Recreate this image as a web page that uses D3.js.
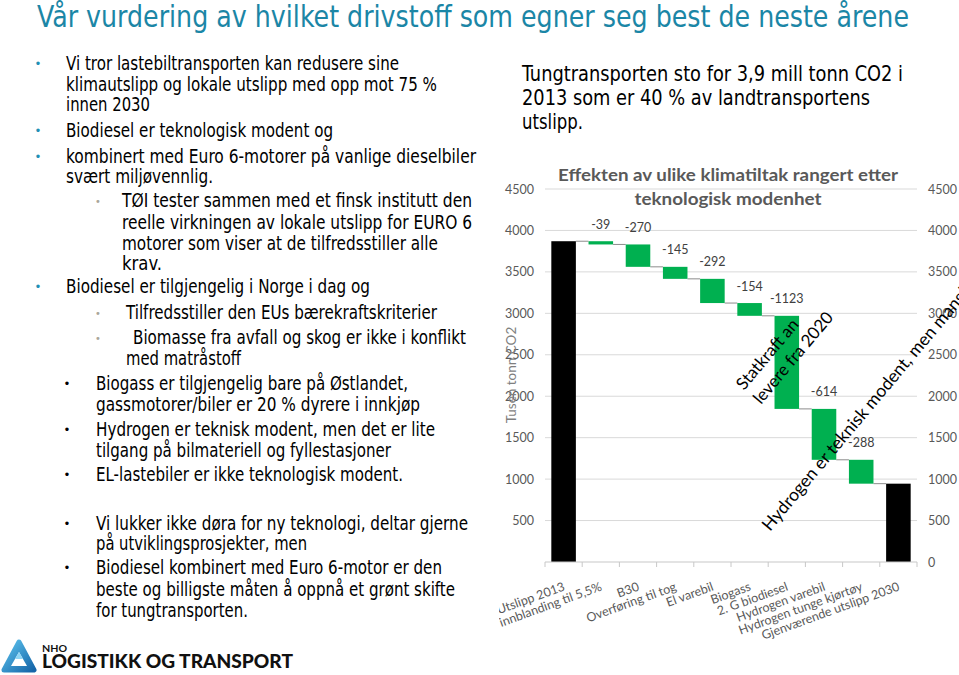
<!DOCTYPE html>
<html><head><meta charset="utf-8">
<script src="https://cdn.jsdelivr.net/npm/d3@7"></script>
<style>html,body{margin:0;padding:0;background:#fff;} svg{display:block;}</style>
</head><body>
<svg id="c" width="959" height="675"></svg>
<script>
// ---------- chart data ----------
const categories = ["Utslipp 2013", "Bio innblanding  til 5,5%", "B30", "Overføring til tog", "El varebil",
  "Biogass", "2. G biodiesel", "Hydrogen varebil", "Hydrogen tunge kjørtøy", "Gjenværende utslipp 2030"];
const values = [3870, -39, -270, -145, -292, -154, -1123, -614, -288, 945];
const kinds = ["total", "delta", "delta", "delta", "delta", "delta", "delta", "delta", "delta", "total"];
const rightTicks = [0, 500, 1000, 1500, 2000, 2500, 3000, 3500, 4000, 4500];
const leftTicks = [500, 1000, 1500, 2000, 2500, 3000, 3500, 4000, 4500];
const chartTitle = ["Effekten av ulike klimatiltak rangert etter", "teknologisk modenhet"];
const yTitle = "Tusen tonn CO2";
const annotations = [["Statkraft an", "levere fra 2020"], ["Hydrogen er teknisk modent, men mangler"]];

// ---------- slide text ----------
const slideTitle = "Vår vurdering av hvilket drivstoff som egner seg best de neste årene";
// [text, bulletType, x, centerY, endX]
const bodyLines = [
  ["Vi tror lastebiltransporten kan redusere sine", "teal", 66, 63.3, 399],
  ["klimautslipp og lokale utslipp med opp mot 75 %", null, 66, 84.3, 437],
  ["innen 2030", null, 66, 104.3, 150],
  ["Biodiesel er teknologisk modent og", "teal", 66, 130, 333],
  ["kombinert med Euro 6-motorer på vanlige dieselbiler", "teal", 66, 156, 476],
  ["svært miljøvennlig.", null, 66, 176.7, 213],
  ["TØI tester sammen med et finsk institutt den", "gray", 122, 200, 472],
  ["reelle virkningen av lokale utslipp for EURO 6", null, 122, 222, 472],
  ["motorer som viser at de tilfredsstiller alle", null, 122, 243, 438],
  ["krav.", null, 122, 263, 162],
  ["Biodiesel er tilgjengelig i Norge i dag og", "teal", 66, 286.7, 370],
  ["Tilfredsstiller den EUs bærekraftskriterier", "gray", 126, 312, 437],
  ["Biomasse fra avfall og skog er ikke i konflikt", "gray", 133, 337, 466],
  ["med matråstoff", null, 126, 358, 241],
  ["Biogass er tilgjengelig bare på Østlandet,", "black", 96, 383, 408],
  ["gassmotorer/biler er 20 % dyrere i innkjøp", null, 96, 404, 420],
  ["Hydrogen er teknisk modent, men det er lite", "black", 96, 429, 435],
  ["tilgang på bilmateriell og fyllestasjoner", null, 96, 450, 391],
  ["EL-lastebiler er ikke teknologisk modent.", "black", 96, 474, 403],
  ["Vi lukker ikke døra for ny teknologi, deltar gjerne", "black", 96, 523, 468],
  ["på utviklingsprosjekter, men", null, 96, 543, 307],
  ["Biodiesel kombinert med Euro 6-motor er den", "black", 96, 567, 442],
  ["beste og billigste måten å oppnå et grønt skifte", null, 96, 589, 455],
  ["for tungtransporten.", null, 96, 610, 248]
];
const rightLines = [
  ["Tungtransporten sto for 3,9 mill tonn CO2 i", 522, 80.5, 903],
  ["2013 som er 40 % av landtransportens", 522, 104.5, 870],
  ["utslipp.", 522, 128.5, 583]
];

const svg = d3.select("#c");
const BODY = "'DejaVu Sans Condensed','DejaVu Sans',Verdana,sans-serif";
const CAL = "Lato,'Open Sans',sans-serif";

// slide title
svg.append("text").attr("x", 37).attr("y", 27).text(slideTitle)
  .attr("font-family", BODY).attr("font-size", 30).attr("fill", "#1b86a6")
  .attr("textLength", 872).attr("lengthAdjust", "spacingAndGlyphs");

// body text
const bulletStyle = {
  teal: {x: 38, fill: "#2190b5", size: 13},
  gray: {x: 98, fill: "#aaa69a", size: 11},
  black: {x: 67, fill: "#000", size: 13}
};
bodyLines.forEach(([t, b, x0, cy, x1]) => {
  svg.append("text").attr("x", x0).attr("y", cy + 6.5).text(t)
    .attr("font-family", BODY).attr("font-size", 19).attr("fill", "#000")
    .attr("textLength", x1 - x0).attr("lengthAdjust", "spacingAndGlyphs");
  if (b) {
    const s = bulletStyle[b];
    svg.append("text").attr("x", s.x).attr("y", cy + 4.5).text("•")
      .attr("text-anchor", "middle").attr("font-family", BODY)
      .attr("font-size", s.size).attr("fill", s.fill);
  }
});
rightLines.forEach(([t, x0, by, x1]) => {
  svg.append("text").attr("x", x0).attr("y", by).text(t)
    .attr("font-family", BODY).attr("font-size", 21).attr("fill", "#000")
    .attr("textLength", x1 - x0).attr("lengthAdjust", "spacingAndGlyphs");
});

// ---------- chart ----------
const x = d3.scaleBand().domain(categories).range([545, 917]).paddingInner(0.34).paddingOuter(0.17);
const y = d3.scaleLinear().domain([0, 4500]).range([562, 189]);
const g = svg.append("g");

// gridlines
g.selectAll("line.grid").data(leftTicks).join("line")
  .attr("x1", 545).attr("x2", 917).attr("y1", d => y(d)).attr("y2", d => y(d))
  .attr("stroke", "#d9d9d9").attr("stroke-width", 1);

// waterfall segments
let run = 0;
const segs = categories.map((c, i) => {
  const v = values[i];
  let s;
  if (kinds[i] === "total") { s = {c, lo: 0, hi: v, kind: "total", v, end: v}; run = v; }
  else { s = {c, lo: run + v, hi: run, kind: "delta", v, end: run + v}; run += v; }
  return s;
});
const bw = x.bandwidth();

// connectors
g.selectAll("line.conn").data(segs.slice(0, -1)).join("line")
  .attr("x1", (d) => x(d.c) + bw).attr("x2", (d, i) => x(categories[i + 1]))
  .attr("y1", d => y(d.end)).attr("y2", d => y(d.end))
  .attr("stroke", "#8c8c8c").attr("stroke-width", 1);

g.selectAll("rect.bar").data(segs).join("rect")
  .attr("x", d => x(d.c)).attr("width", bw)
  .attr("y", d => y(d.hi)).attr("height", d => y(d.lo) - y(d.hi))
  .attr("fill", d => d.kind === "total" ? "#000000" : "#00b050");

// axis line + ticks
g.append("line").attr("x1", 545).attr("x2", 917).attr("y1", y(0)).attr("y2", y(0))
  .attr("stroke", "#c8c8c8").attr("stroke-width", 1.2);
const bounds = categories.map(c => x(c) - x.step() * x.paddingInner() / 2).concat([917]);
g.selectAll("line.tick").data(bounds).join("line")
  .attr("x1", d => d).attr("x2", d => d).attr("y1", y(0)).attr("y2", y(0) + 5)
  .attr("stroke", "#c8c8c8").attr("stroke-width", 1);

// data labels
g.selectAll("text.lbl").data(segs.filter(d => d.kind === "delta")).join("text")
  .attr("x", d => x(d.c) + bw / 2).attr("y", d => y(d.hi) - 12.5)
  .attr("text-anchor", "middle").text(d => String(d.v))
  .attr("font-family", CAL).attr("font-size", 12.5).attr("fill", "#404040");

// y axes
const fmt = d3.format("d");
const la = g.append("g").attr("transform", "translate(534,0)")
  .call(d3.axisLeft(y).tickValues(leftTicks).tickFormat(fmt).tickSize(0).tickPadding(0));
const ra = g.append("g").attr("transform", "translate(928,0)")
  .call(d3.axisRight(y).tickValues(rightTicks).tickFormat(fmt).tickSize(0).tickPadding(0));
[la, ra].forEach(a => {
  a.select(".domain").remove();
  a.selectAll("text").attr("font-family", CAL).attr("font-size", 12.5).attr("fill", "#595959");
});

// y title
g.append("text").attr("transform", "translate(516,375) rotate(-90)")
  .attr("text-anchor", "middle").text(yTitle)
  .attr("font-family", CAL).attr("font-size", 13.5).attr("fill", "#7f7f7f");

// chart title
chartTitle.forEach((t, i) => {
  g.append("text").attr("x", 728).attr("y", 181 + i * 23.5).attr("text-anchor", "middle").text(t)
    .attr("font-family", CAL).attr("font-weight", 700).attr("font-size", 17).attr("fill", "#595959")
    .attr("textLength", i === 0 ? 340 : 187).attr("lengthAdjust", "spacingAndGlyphs");
});

// category labels (clipped at chart area left edge)
svg.append("clipPath").attr("id", "clipCat").append("rect")
  .attr("x", 499).attr("y", 560).attr("width", 460).attr("height", 115);
const cg = g.append("g").attr("clip-path", "url(#clipCat)");
cg.selectAll("text").data(categories).join("text")
  .attr("transform", c => `translate(${x(c) + bw / 2 + 2},590) rotate(-20)`)
  .attr("text-anchor", "end").text(c => c)
  .attr("font-family", CAL).attr("font-size", 12.5).attr("fill", "#595959");

// annotations
const a1 = [[744, 391], [761, 405]];
annotations[0].forEach((t, i) => {
  g.append("text").attr("transform", `translate(${a1[i][0]},${a1[i][1]}) rotate(-50)`).text(t)
    .attr("font-family", CAL).attr("font-size", 17).attr("fill", "#000");
});
g.append("text").attr("transform", "translate(770,532) rotate(-50)").text(annotations[1][0])
  .attr("font-family", CAL).attr("font-size", 17.5).attr("fill", "#000");

// ---------- logo ----------
const defs = svg.append("defs");
const lg = defs.append("linearGradient").attr("id", "lg").attr("x1", "0").attr("y1", "0").attr("x2", "1").attr("y2", "1");
lg.append("stop").attr("offset", "0").attr("stop-color", "#5cc3ee");
lg.append("stop").attr("offset", "1").attr("stop-color", "#1565a8");
svg.append("path").attr("d", "M19,642 L34,670 L4,670 Z").attr("fill", "url(#lg)")
  .attr("stroke", "url(#lg)").attr("stroke-width", 5).attr("stroke-linejoin", "round");
svg.append("path").attr("d", "M19,652 L27,666 L11,666 Z").attr("fill", "#fff");
svg.append("path").attr("d", "M19,652 L23,659 L15,659 Z").attr("fill", "#8fd6f5");
svg.append("text").attr("x", 42).attr("y", 652).text("NHO")
  .attr("font-family", CAL).attr("font-weight", 700).attr("font-size", 10).attr("fill", "#111")
  .attr("textLength", 25).attr("lengthAdjust", "spacingAndGlyphs");
svg.append("text").attr("x", 42).attr("y", 668).text("LOGISTIKK OG TRANSPORT")
  .attr("font-family", CAL).attr("font-weight", 900).attr("font-size", 18.5).attr("fill", "#111")
  .attr("textLength", 251).attr("lengthAdjust", "spacingAndGlyphs");
</script>
</body></html>
